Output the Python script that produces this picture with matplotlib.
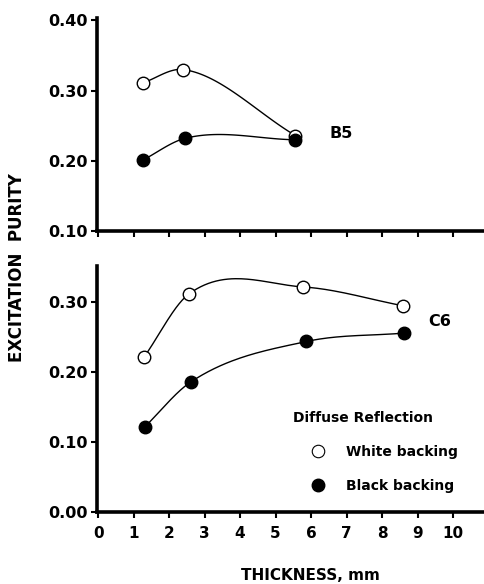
import numpy as np
import matplotlib
matplotlib.use("Agg")
import matplotlib.pyplot as plt
from matplotlib.lines import Line2D

# ---- data ----
b5_x_white = [1.26, 2.40, 5.56]
b5_y_white = [0.311, 0.330, 0.236]
b5_x_black = [1.26, 2.45, 5.56]
b5_y_black = [0.201, 0.232, 0.230]

c6_x_white = [1.30, 2.56, 5.78, 8.60]
c6_y_white = [0.222, 0.312, 0.322, 0.295]
c6_x_black = [1.32, 2.61, 5.87, 8.62]
c6_y_black = [0.122, 0.186, 0.244, 0.256]

x_ticks = list(range(0, 11))
top_yticks = [0.10, 0.20, 0.30, 0.40]
bot_yticks = [0.00, 0.10, 0.20, 0.30]
top_ytick_labels = ["0.10", "0.20", "0.30", "0.40"]
bot_ytick_labels = ["0.00", "0.10", "0.20", "0.30"]


def smooth_curve(x, y, n=60):
    """Hand-drawn-like smooth line through the points (cubic Hermite)."""
    x = np.asarray(x, float)
    y = np.asarray(y, float)
    k = len(x)
    h = np.diff(x)
    s = np.diff(y) / h
    m = np.empty(k)
    m[0] = s[0]
    m[-1] = s[-1]
    for i in range(1, k - 1):
        catmull = (y[i + 1] - y[i - 1]) / (x[i + 1] - x[i - 1])
        bessel = (h[i] * s[i - 1] + h[i - 1] * s[i]) / (h[i - 1] + h[i])
        m[i] = 0.5 * (catmull + bessel)
    xs_all, ys_all = [], []
    for i in range(k - 1):
        t = np.linspace(0, 1, n)
        h00 = 2 * t ** 3 - 3 * t ** 2 + 1
        h10 = t ** 3 - 2 * t ** 2 + t
        h01 = -2 * t ** 3 + 3 * t ** 2
        h11 = t ** 3 - t ** 2
        xs_all.append(x[i] + t * h[i])
        ys_all.append(h00 * y[i] + h10 * h[i] * m[i] + h01 * y[i + 1]
                      + h11 * h[i] * m[i + 1])
    return np.concatenate(xs_all), np.concatenate(ys_all)


plt.rcParams["font.family"] = ["DejaVu Sans"]
plt.rcParams["font.weight"] = "bold"

fig = plt.figure(figsize=(4.85, 5.84), dpi=100)
W, H = 485, 584
ax1 = fig.add_axes([97 / W, 1 - 231 / H, 1 - 97 / W, (231 - 18) / H])
ax2 = fig.add_axes([97 / W, 1 - 512 / H, 1 - 97 / W, (512 - 266) / H])

ms = 9
for ax in (ax1, ax2):
    for sp in ("top", "right"):
        ax.spines[sp].set_visible(False)
    for sp in ("left", "bottom"):
        ax.spines[sp].set_linewidth(2.6)
    ax.set_xlim(-0.03, (W - 97) / 35.6)
    ax.set_xticks(x_ticks)
    ax.tick_params(axis="x", direction="out", length=4, width=1.5, pad=6,
                   labelsize=11)
    ax.tick_params(axis="y", direction="out", length=4, width=1.5, pad=3,
                   labelsize=11.5)

# top panel
ax1.set_ylim(0.10, 0.4035)
ax1.set_yticks(top_yticks)
ax1.set_yticklabels(top_ytick_labels)
ax1.set_xticklabels([])
for xs_, ys_, fc in ((b5_x_white, b5_y_white, "white"),
                     (b5_x_black, b5_y_black, "black")):
    cx, cy = smooth_curve(xs_, ys_)
    ax1.plot(cx, cy, color="black", lw=1.0, zorder=2)
    ax1.plot(xs_, ys_, linestyle="none", marker="o", ms=ms, mfc=fc,
             mec="black", mew=1.0, zorder=3)
ax1.text(6.52, 0.2386, "B5", fontsize=11.5, fontweight="bold", va="center",
         ha="left")

# bottom panel
ax2.set_ylim(0.0, 0.352)
ax2.set_yticks(bot_yticks)
ax2.set_yticklabels(bot_ytick_labels)
ax2.set_xticklabels([str(v) for v in x_ticks])
for xs_, ys_, fc in ((c6_x_white, c6_y_white, "white"),
                     (c6_x_black, c6_y_black, "black")):
    cx, cy = smooth_curve(xs_, ys_)
    ax2.plot(cx, cy, color="black", lw=1.0, zorder=2)
    ax2.plot(xs_, ys_, linestyle="none", marker="o", ms=ms, mfc=fc,
             mec="black", mew=1.0, zorder=3)
ax2.text(9.3, 0.272, "C6", fontsize=11.5, fontweight="bold", va="center",
         ha="left")

handles = [
    Line2D([], [], linestyle="none", marker="o", ms=ms, mfc="white",
           mec="black", mew=0.8),
    Line2D([], [], linestyle="none", marker="o", ms=ms, mfc="black",
           mec="black"),
]
leg = fig.legend(handles, ["White backing", "Black backing"],
                 title="Diffuse Reflection", loc="upper left",
                 bbox_to_anchor=(293 / W, 1 - 411 / H), frameon=False,
                 fontsize=10, title_fontsize=10, handlelength=3.6,
                 handletextpad=0.2, labelspacing=1.45, borderpad=0,
                 borderaxespad=0, alignment="left")
leg.get_title().set_fontweight("bold")

fig.text(17 / W, 1 - 268 / H, "EXCITATION  PURITY", rotation=90,
         fontsize=12, fontweight="bold", ha="center", va="center")
fig.text(310 / W, 1 - 575 / H, "THICKNESS, mm", fontsize=11,
         fontweight="bold", ha="center", va="center")

fig.savefig("out.png", dpi=100)
